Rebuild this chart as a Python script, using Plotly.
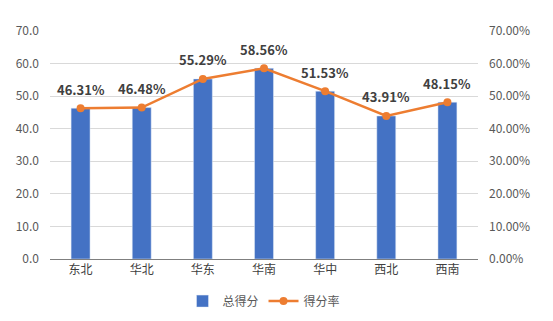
import plotly.graph_objects as go

categories = ["东北", "华北", "华东", "华南", "华中", "西北", "西南"]
total_scores = [46.31, 46.48, 55.29, 58.56, 51.53, 43.91, 48.15]
score_rates = [0.4631, 0.4648, 0.5529, 0.5856, 0.5153, 0.4391, 0.4815]

FONT = "Noto Sans CJK SC"

fig = go.Figure()
fig.add_trace(go.Bar(
    x=categories, y=total_scores, name="总得分",
    marker=dict(color="#4472C4"), width=0.31,
))
fig.add_trace(go.Scatter(
    x=categories, y=score_rates, name="得分率", yaxis="y2",
    mode="lines+markers",
    line=dict(color="#ED7D31", width=2.5),
    marker=dict(color="#ED7D31", size=8),
))

for c, v in zip(categories, score_rates):
    fig.add_annotation(
        x=c, y=v, xref="x", yref="y2", text=f"{v*100:.2f}%",
        showarrow=False, yshift=19,
        font=dict(family=FONT, size=13, color="#404040", weight="bold"),
    )

fig.update_layout(
    width=553, height=321,
    margin=dict(l=50, r=75, t=31, b=62, autoexpand=False),
    paper_bgcolor="white", plot_bgcolor="white",
    font=dict(family=FONT, size=12, color="#595959"),
    showlegend=True,
    legend=dict(orientation="h", x=0.5, xanchor="center",
                yref="container", y=0.062, yanchor="middle",
                font=dict(size=12, color="#595959")),
    xaxis=dict(showgrid=False, showline=True, linecolor="#7f7f7f", linewidth=1,
               ticks="", automargin=False, tickfont=dict(size=12, color="#404040")),
    yaxis=dict(range=[0, 70], dtick=10, tickformat=".1f", showgrid=True,
               gridcolor="#d9d9d9", zeroline=False, ticks="", automargin=False,
               ticklabelstandoff=10,
               tickfont=dict(size=12, color="#595959")),
    yaxis2=dict(range=[0, 0.7], dtick=0.1, tickformat=".2%", overlaying="y",
                side="right", showgrid=False, zeroline=False, ticks="", automargin=False,
                ticklabelstandoff=10,
                tickfont=dict(size=12, color="#595959")),
    bargap=0.69,
)

fig.write_html("out.html")
